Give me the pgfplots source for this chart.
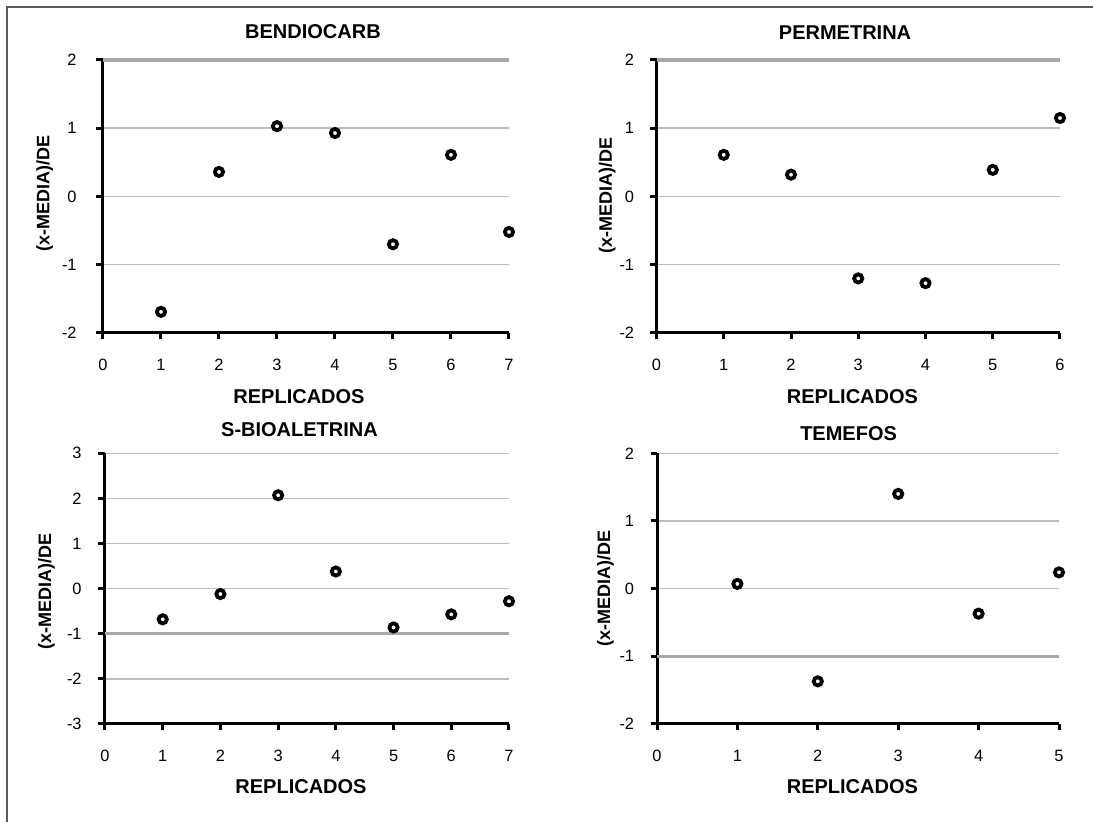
\documentclass[border=0pt]{standalone}
\usepackage{fontspec}
\setmainfont{Liberation Sans}
\usepackage{pgfplots}
\pgfplotsset{compat=1.18}
\definecolor{gridgray}{gray}{0.74}
\definecolor{thickgray}{gray}{0.66}
\definecolor{framegray}{gray}{0.35}
\pgfplotsset{
  every axis title shift=0pt,
  panel/.style={
    scale only axis,
    anchor=south west,
    axis x line=bottom,
    axis y line=left,
    axis line style={-, line width=1.5pt, black},
    tick align=outside,
    major tick length=3.25pt,
    every tick/.style={black, line width=1.5pt},
    ymajorgrids,
    major grid style={gridgray, line width=0.75pt},
    tick label style={font=\fontsize{8.2}{9.8}\selectfont, black},
    /pgf/number format/assume math mode=true,
    xticklabel style={anchor=north, inner sep=0pt, yshift=-9.75pt},
    yticklabel style={anchor=east, inner sep=0pt},
    title style={font=\bfseries\fontsize{10}{12}\selectfont, anchor=center},
    xlabel style={font=\bfseries\fontsize{10}{12}\selectfont, anchor=center},
    ylabel style={font=\bfseries\fontsize{9}{11}\selectfont, anchor=center},
    xlabel={REPLICADOS},
    ylabel={(x-MEDIA)/DE},
    clip=false,
    extra y tick labels={},
    extra y tick style={major grid style={thickgray, line width=1.7pt}, major tick length=0pt},
  },
  pts/.style={only marks, mark=*, mark size=2.05pt, mark options={fill=white, draw=black, line width=1.9pt}},
}
\begin{document}
\begin{tikzpicture}
\useasboundingbox (0,0) rectangle (546.5pt,411pt);
\draw[framegray, line width=0.9pt] (3.5pt,0pt) -- (3.5pt,407.5pt) -- (546.5pt,407.5pt);

% BENDIOCARB
\begin{axis}[panel, at={(51.5pt,244.5pt)}, width=203pt, height=136.5pt,
  xmin=0, xmax=7, ymin=-2, ymax=2, xtick={0,...,7}, ytick={-2,...,2},
  extra y ticks={2},
  yticklabel style={xshift=-9.75pt},
  title={BENDIOCARB},
  title style={at={([xshift=3.5pt,yshift=14pt]axis description cs:0.5,1)}},
  xlabel style={at={([xshift=-3.5pt,yshift=-32pt]axis description cs:0.5,0)}},
  ylabel style={at={([xshift=-29.2pt,yshift=1.5pt]axis description cs:0,0.5)}}]
\addplot[pts] coordinates {(1,-1.69) (2,0.36) (3,1.03) (4,0.93) (5,-0.70) (6,0.61) (7,-0.52)};
\end{axis}

% PERMETRINA
\begin{axis}[panel, at={(328.25pt,244.5pt)}, width=201.75pt, height=136.5pt,
  xmin=0, xmax=6, ymin=-2, ymax=2, xtick={0,...,6}, ytick={-2,...,2},
  extra y ticks={2},
  yticklabel style={xshift=-7.75pt},
  title={PERMETRINA},
  title style={at={([xshift=-6.6pt,yshift=13.5pt]axis description cs:0.5,1)}},
  xlabel style={at={([xshift=-2.9pt,yshift=-32pt]axis description cs:0.5,0)}},
  ylabel style={at={([xshift=-24.7pt,yshift=0.7pt]axis description cs:0,0.5)}}]
\addplot[pts] coordinates {(1,0.61) (2,0.32) (3,-1.20) (4,-1.27) (5,0.39) (6,1.15)};
\end{axis}

% S-BIOALETRINA
\begin{axis}[panel, at={(52.5pt,49pt)}, width=202pt, height=135.35pt,
  xmin=0, xmax=7, ymin=-3, ymax=3, xtick={0,...,7}, ytick={-3,...,3},
  extra y ticks={-1},
  yticklabel style={xshift=-8.25pt},
  title={S-BIOALETRINA},
  title style={at={([xshift=-3.75pt,yshift=12pt]axis description cs:0.5,1)}},
  xlabel style={at={([xshift=-3pt,yshift=-31.3pt]axis description cs:0.5,0)}},
  ylabel style={at={([xshift=-29.3pt,yshift=-1.5pt]axis description cs:0,0.5)}}]
\addplot[pts] coordinates {(1,-0.68) (2,-0.12) (3,2.07) (4,0.38) (5,-0.86) (6,-0.57) (7,-0.28)};
\end{axis}

% TEMEFOS
\begin{axis}[panel, at={(328.5pt,49pt)}, width=201pt, height=135.35pt,
  xmin=0, xmax=5, ymin=-2, ymax=2, xtick={0,...,5}, ytick={-2,...,2},
  extra y ticks={-1},
  yticklabel style={xshift=-8pt},
  title={TEMEFOS},
  title style={at={([xshift=-4.7pt,yshift=10pt]axis description cs:0.5,1)}},
  xlabel style={at={([xshift=-2.8pt,yshift=-31.3pt]axis description cs:0.5,0)}},
  ylabel style={at={([xshift=-25.8pt]axis description cs:0,0.5)}}]
\addplot[pts] coordinates {(1,0.07) (2,-1.37) (3,1.40) (4,-0.37) (5,0.24)};
\end{axis}
\end{tikzpicture}
\end{document}
